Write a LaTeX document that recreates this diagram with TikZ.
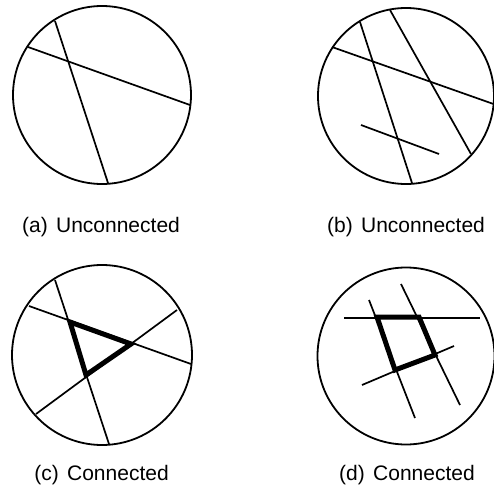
\documentclass[tikz,border=0pt]{standalone}
\usepackage{fontspec}
\setmainfont{Liberation Sans}
\begin{document}
\begin{tikzpicture}[x=1pt,y=-1pt,
  disk/.style={line width=1.8pt},
  chord/.style={line width=1.7pt},
  bold/.style={line width=5pt,line join=miter,line cap=butt},
  caption/.style={anchor=base,inner sep=0pt,font=\fontsize{21}{24}\selectfont}]
\useasboundingbox (0,0) rectangle (494,495);
% (a)
\draw[disk] (102,95) circle (89);
\draw[chord] (55,21) -- (108,183);
\draw[chord] (28,47) -- (190,105);
\node[caption] (la) at (101,232) {(a)\hspace{0.4em}Unconnected};
% (b)
\draw[disk] (406,96) circle (88);
\draw[chord] (332,47) -- (493.5,104);
\draw[chord] (360,22) -- (412,183);
\draw[chord] (390,10) -- (471,154);
\draw[chord] (361,125) -- (439,154);
\node[caption] (lb) at (406,232) {(b)\hspace{0.4em}Unconnected};
% (c)
\draw[disk] (102,355) circle (90);
\draw[chord] (55,280) -- (109,444);
\draw[chord] (29,306) -- (191,364);
\draw[chord] (177,310) -- (36,414);
\draw[bold] (70,322) -- (131,344) -- (86,375) -- cycle;
\node[caption] (lc) at (101.5,480) {(c)\hspace{0.4em}Connected};
% (d)
\draw[disk] (406,356) circle (88.5);
\draw[chord] (344,318) -- (480,318);
\draw[chord] (369,300) -- (415,418);
\draw[chord] (401,284) -- (460,405);
\draw[chord] (362,385) -- (454,346);
\draw[bold] (377,317) -- (419,317) -- (435,355) -- (395,370) -- cycle;
\node[caption] (ld) at (407,480) {(d)\hspace{0.4em}Connected};
\end{tikzpicture}
\end{document}
